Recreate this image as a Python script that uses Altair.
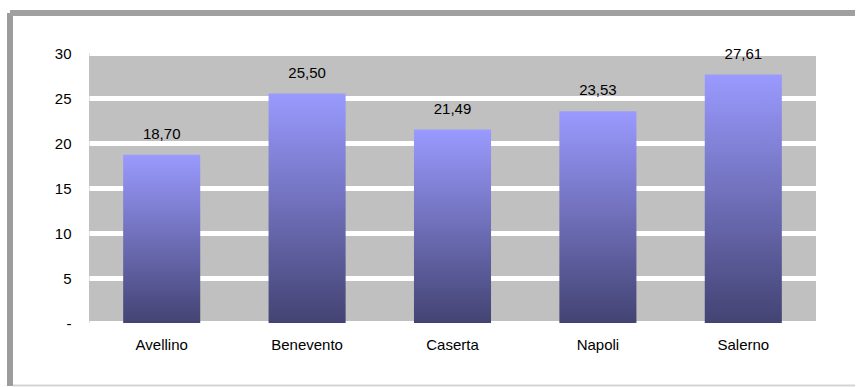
import altair as alt
import pandas as pd

provinces = ["Avellino", "Benevento", "Caserta", "Napoli", "Salerno"]
values = [18.70, 25.50, 21.49, 23.53, 27.61]
labels = [f"{v:.2f}".replace(".", ",") for v in values]
y_ticks = [0, 5, 10, 15, 20, 25, 30]

df = pd.DataFrame({"provincia": provinces, "valore": values, "etichetta": labels})
frame_df = pd.DataFrame({"a": [0]})

FONT = "Liberation Sans"

x_enc = alt.X(
    "provincia:N",
    sort=provinces,
    title=None,
    scale=alt.Scale(paddingInner=0.47, paddingOuter=0.235),
    axis=alt.Axis(labelAngle=0, ticks=False, domain=False, labelPadding=14,
                  labelFont=FONT, labelFontSize=15, labelColor="black", grid=False),
)
y_enc = alt.Y(
    "valore:Q",
    title=None,
    scale=alt.Scale(domain=[0, 30], nice=False),
    axis=alt.Axis(values=y_ticks, ticks=False, domain=False, labelPadding=18,
                  labelFont=FONT, labelFontSize=15, labelColor="black",
                  grid=True, gridColor="white", gridWidth=5, gridOpacity=1,
                  labelExpr="datum.value == 0 ? '-' : datum.label"),
)

grad = alt.Gradient(
    gradient="linear",
    stops=[alt.GradientStop(color="#9A9AFF", offset=0),
           alt.GradientStop(color="#434373", offset=1)],
    x1=0, x2=0, y1=0, y2=1,
)

bars = alt.Chart(df).mark_bar(color=grad).encode(x=x_enc, y=y_enc)

text = alt.Chart(df).mark_text(
    font=FONT, fontSize=15, color="black", baseline="alphabetic", dy=-16
).encode(
    x=alt.X("provincia:N", sort=provinces),
    y="valore:Q",
    text="etichetta:N",
)

left_border = alt.Chart(frame_df).mark_rule(color="#9C9C9C", strokeWidth=6).encode(
    x=alt.value(-79), y=alt.value(-40), y2=alt.value(333)
)
top_border = alt.Chart(frame_df).mark_rule(color="#A0A0A0", strokeWidth=6).encode(
    x=alt.value(-79), x2=alt.value(766), y=alt.value(-40)
)
bottom_border = alt.Chart(frame_df).mark_rule(color="#D4D4D4", strokeWidth=2).encode(
    x=alt.value(-76), x2=alt.value(766), y=alt.value(332.5)
)

chart = alt.layer(bars, text, left_border, top_border, bottom_border).properties(
    width=727,
    height=270,
    padding={"left": 7, "top": 10, "right": 0, "bottom": 0},
    background="white",
).configure_view(fill="#C0C0C0", strokeWidth=0)

chart.save("out.html", embed_options={"renderer": "svg", "actions": False})
